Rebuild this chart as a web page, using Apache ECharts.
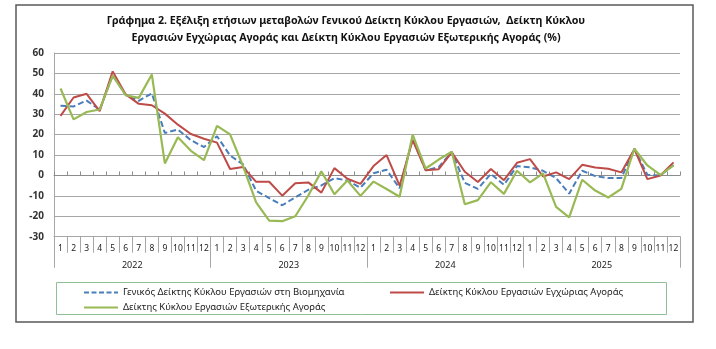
<!DOCTYPE html>
<html>
<head>
<meta charset="utf-8">
<script src="https://cdn.jsdelivr.net/npm/echarts@6/dist/echarts.min.js"></script>
<style>
html,body{margin:0;padding:0;background:#fff;}
#chart{width:716px;height:349px;}
</style>
</head>
<body>
<div id="chart"></div>
<script>
const titleLines = [
  "Γράφημα 2. Εξέλιξη ετήσιων μεταβολών Γενικού Δείκτη Κύκλου Εργασιών,  Δείκτη Κύκλου",
  "Εργασιών Εγχώριας Αγοράς και Δείκτη Κύκλου Εργασιών Εξωτερικής Αγοράς (%)"
];
const years = ["2022", "2023", "2024", "2025"];
const monthLabels = ["1","2","3","4","5","6","7","8","9","10","11","12"];
const seriesNames = [
  "Γενικός Δείκτης Κύκλου Εργασιών στη Βιομηχανία",
  "Δείκτης Κύκλου Εργασιών Εγχώριας Αγοράς",
  "Δείκτης Κύκλου Εργασιών Εξωτερικής Αγοράς"
];
const generalIndex = [
  34.2, 33.8, 36.7, 32.2, 49.0, 39.4, 36.6, 40.2, 20.8, 22.5, 17.3, 13.9,
  19.2, 9.8, 5.4, -7.5, -11.1, -14.6, -10.7, -7.0, -4.9, -1.3, -2.5, -6.0,
  1.1, 2.8, -6.3, 18.0, 2.5, 4.1, 11.5, -3.6, -6.6, 0.8, -4.6, 4.6,
  4.0, 2.3, -1.3, -8.9, 2.3, -0.3, -1.3, -1.3, 13.1, 0.3, 0.0, 5.2
];
const domesticIndex = [
  29.2, 38.2, 40.0, 31.5, 51.0, 39.7, 35.1, 34.4, 30.3, 24.9, 20.3, 18.0,
  16.1, 3.2, 4.1, -3.1, -3.1, -9.9, -3.8, -3.4, -8.4, 3.6, -1.6, -4.1,
  4.6, 10.0, -5.0, 17.3, 2.6, 3.1, 11.3, 1.8, -3.2, 3.2, -2.3, 6.2,
  8.0, -0.5, 1.5, -1.8, 5.2, 3.9, 3.3, 1.5, 12.9, -1.8, 0.0, 6.4
];
const externalIndex = [
  42.6, 27.5, 31.1, 32.3, 48.9, 39.3, 38.0, 49.5, 5.9, 18.7, 12.1, 7.5,
  24.3, 20.1, 4.5, -13.2, -22.1, -22.4, -20.0, -9.8, 2.0, -9.2, -2.5, -10.0,
  -3.0, -6.6, -10.4, 20.0, 3.4, 7.8, 11.6, -14.1, -12.1, -3.3, -9.0, 2.3,
  -3.4, 1.0, -15.4, -20.5, -2.1, -7.4, -10.8, -6.6, 13.1, 4.9, 0.3, 4.9
];

const categories = [];
years.forEach(y => monthLabels.forEach(m => categories.push(y + "-" + m)));

const FONT = '"Noto Sans", sans-serif';
const gridColor = '#a6a6a6';
const colors = ['#4A7EBB', '#BE4B48', '#98B954'];

const dashIcon = 'path://M0,0h5v2h-5zM7.5,0h5v2h-5zM15,0h5v2h-5zM22.5,0h5v2h-5zM30,0h4v2h-4z';
const solidIcon = 'path://M0,0H34V2H0Z';

const legendBase = {
  padding: 0, itemWidth: 34, itemHeight: 2, itemGap: 5, symbolKeepAspect: false,
  textStyle: {fontSize: 9.5, color: '#222', fontFamily: FONT}
};

const chart = echarts.init(document.getElementById('chart'), null, {renderer: 'canvas'});
chart.setOption({
  animation: false,
  backgroundColor: '#fff',
  textStyle: {fontFamily: FONT},
  grid: {left: 54, right: 36, top: 53, bottom: 112.3, containLabel: false},
  graphic: [
    {type: 'rect', shape: {x: 16, y: 5, width: 677, height: 317}, style: {fill: 'none', stroke: '#5a5a5a', lineWidth: 1.5}, z: 0},
    {type: 'rect', shape: {x: 56.5, y: 282.5, width: 610, height: 32}, style: {fill: 'none', stroke: '#8fbf96', lineWidth: 1}, z: 0},
    {type: 'text', x: 346, y: 12, style: {text: titleLines[0] + '\n' + titleLines[1], textAlign: 'center', font: 'bold 10.7px ' + FONT, lineHeight: 17, fill: '#111'}}
  ],
  legend: [
    Object.assign({data: [{name: seriesNames[0], icon: dashIcon}], left: 84, top: 287.5}, legendBase),
    Object.assign({data: [{name: seriesNames[1], icon: solidIcon}], left: 390, top: 287.5}, legendBase),
    Object.assign({data: [{name: seriesNames[2], icon: solidIcon}], left: 84, top: 302.5}, legendBase)
  ],
  xAxis: [
    {
      type: 'category', data: categories, boundaryGap: true,
      axisLine: {show: true, onZero: true, lineStyle: {color: '#8c8c8c', width: 1}},
      axisTick: {show: true, inside: true, length: 4, interval: 0, lineStyle: {color: '#8c8c8c'}},
      axisLabel: {show: false}, splitLine: {show: false}
    },
    {
      type: 'category', data: categories.map((c, i) => monthLabels[i % 12]), position: 'bottom', boundaryGap: true,
      axisLine: {show: true, onZero: false, lineStyle: {color: gridColor}},
      axisTick: {show: true, inside: false, length: 16, interval: 0, lineStyle: {color: gridColor}},
      axisLabel: {show: true, interval: 0, margin: 7, fontSize: 8.5, color: '#222', fontFamily: FONT},
      splitLine: {show: false}
    },
    {
      type: 'category', data: years, position: 'bottom', boundaryGap: true,
      axisLine: {show: false, onZero: false},
      axisTick: {show: true, inside: false, length: 31, interval: 0, lineStyle: {color: gridColor}},
      axisLabel: {show: true, interval: 0, margin: 24, fontSize: 9, color: '#222', fontFamily: FONT},
      splitLine: {show: false}
    }
  ],
  yAxis: {
    type: 'value', min: -30, max: 60, interval: 10,
    axisLine: {show: true, lineStyle: {color: gridColor}},
    axisTick: {show: false},
    axisLabel: {margin: 10, fontSize: 10, fontWeight: 'bold', color: '#333', fontFamily: FONT},
    splitLine: {show: true, lineStyle: {color: gridColor, width: 1}}
  },
  series: [
    {name: seriesNames[0], type: 'line', data: generalIndex, xAxisIndex: 0, showSymbol: false, symbol: 'none',
     lineStyle: {color: colors[0], width: 2, type: [6, 3]}, itemStyle: {color: colors[0]}, z: 3},
    {name: seriesNames[1], type: 'line', data: domesticIndex, xAxisIndex: 0, showSymbol: false, symbol: 'none',
     lineStyle: {color: colors[1], width: 2}, itemStyle: {color: colors[1]}, z: 4},
    {name: seriesNames[2], type: 'line', data: externalIndex, xAxisIndex: 0, showSymbol: false, symbol: 'none',
     lineStyle: {color: colors[2], width: 2.2}, itemStyle: {color: colors[2]}, z: 5}
  ]
});
</script>
</body>
</html>
